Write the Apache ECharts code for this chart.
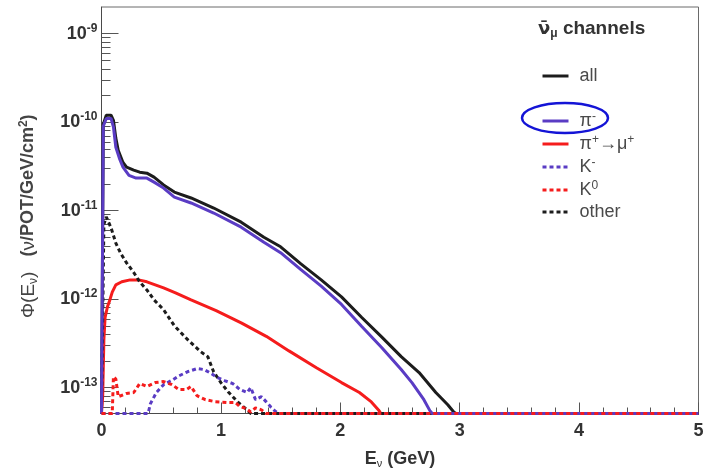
<!DOCTYPE html>
<html>
<head>
<meta charset="utf-8">
<script src="https://cdn.jsdelivr.net/npm/echarts@6/dist/echarts.min.js"></script>
<style>
  html, body { margin: 0; padding: 0; background: #ffffff; }
  #chart { width: 704px; height: 471px; }
</style>
</head>
<body>
<div id="chart"></div>
<script>
// Antineutrino flux by parent channel: energies in GeV, flux in ν/POT/GeV/cm².
// A flux of 0 marks an empty bin; it is drawn on the floor of the log axis.
const allE    = [0, 0.015, 0.04, 0.08, 0.10, 0.12, 0.14, 0.18, 0.21, 0.27, 0.32, 0.38, 0.44, 0.52, 0.61, 0.75, 0.94, 1.17, 1.36, 1.50, 1.67, 1.84, 2.01, 2.18, 2.35, 2.51, 2.66, 2.80, 2.90, 2.95, 2.97, 5.0];
const allFlux = [0, 9.5e-11, 1.2e-10, 1.2e-10, 1.05e-10, 6.6e-11, 4.8e-11, 3.5e-11, 3.1e-11, 2.87e-11, 2.72e-11, 2.65e-11, 2.39e-11, 1.95e-11, 1.62e-11, 1.39e-11, 1.07e-11, 7.4e-12, 5.0e-12, 3.9e-12, 2.5e-12, 1.65e-12, 1.06e-12, 6.2e-13, 3.7e-13, 2.24e-13, 1.48e-13, 8.8e-14, 6.4e-14, 5.3e-14, 0, 0];

const piMinusE    = [0, 0.015, 0.04, 0.08, 0.10, 0.12, 0.15, 0.18, 0.23, 0.29, 0.38, 0.44, 0.52, 0.61, 0.75, 0.94, 1.17, 1.36, 1.50, 1.67, 1.84, 2.01, 2.18, 2.35, 2.51, 2.60, 2.70, 2.75, 2.77, 5.0];
const piMinusFlux = [0, 9.0e-11, 1.1e-10, 1.1e-10, 8.8e-11, 5.2e-11, 3.9e-11, 3.1e-11, 2.5e-11, 2.33e-11, 2.33e-11, 2.1e-11, 1.8e-11, 1.42e-11, 1.22e-11, 9.4e-12, 6.5e-12, 4.4e-12, 3.35e-12, 2.15e-12, 1.4e-12, 8.7e-13, 4.9e-13, 2.8e-13, 1.6e-13, 1.14e-13, 7.3e-14, 5.5e-14, 0, 0];

const piPlusMuE    = [0, 0.01, 0.02, 0.03, 0.05, 0.07, 0.09, 0.12, 0.17, 0.24, 0.31, 0.38, 0.52, 0.62, 0.75, 0.96, 1.17, 1.38, 1.57, 1.80, 2.01, 2.16, 2.26, 2.32, 2.34, 5.0];
const piPlusMuFlux = [0, 8e-14, 3.5e-13, 6.2e-13, 8.2e-13, 9.8e-13, 1.2e-12, 1.45e-12, 1.57e-12, 1.65e-12, 1.65e-12, 1.57e-12, 1.34e-12, 1.18e-12, 9.8e-13, 7.4e-13, 5.4e-13, 3.8e-13, 2.6e-13, 1.68e-13, 1.14e-13, 8.8e-14, 6.9e-14, 5.6e-14, 0, 0];

const kMinusE    = [0, 0.39, 0.41, 0.46, 0.52, 0.60, 0.65, 0.72, 0.80, 0.86, 0.92, 0.97, 1.03, 1.10, 1.16, 1.22, 1.25, 1.29, 1.34, 1.38, 1.42, 1.45, 1.48, 5.0];
const kMinusFlux = [0, 0, 6.6e-14, 8.8e-14, 1.08e-13, 1.23e-13, 1.36e-13, 1.51e-13, 1.64e-13, 1.6e-13, 1.44e-13, 1.3e-13, 1.2e-13, 1.11e-13, 9.5e-14, 8.8e-14, 1.0e-13, 7.3e-14, 7.9e-14, 6.9e-14, 6.0e-14, 5.5e-14, 0, 0];

const kZeroE    = [0, 0.09, 0.10, 0.12, 0.14, 0.21, 0.27, 0.32, 0.38, 0.45, 0.52, 0.59, 0.65, 0.71, 0.75, 0.80, 0.87, 0.95, 1.05, 1.12, 1.16, 1.21, 1.25, 1.29, 1.34, 1.38, 5.0];
const kZeroFlux = [0, 0, 1.33e-13, 1.25e-13, 7.9e-14, 8.6e-14, 8.8e-14, 1.11e-13, 1.03e-13, 1.14e-13, 1.17e-13, 1.08e-13, 9.5e-14, 9.5e-14, 1.03e-13, 8.1e-14, 7.3e-14, 6.95e-14, 6.8e-14, 6.8e-14, 6.1e-14, 5.8e-14, 5.3e-14, 5.9e-14, 5.6e-14, 0, 0];

const otherE    = [0, 0.02, 0.04, 0.08, 0.12, 0.16, 0.21, 0.27, 0.32, 0.38, 0.44, 0.52, 0.61, 0.72, 0.83, 0.89, 0.94, 1.00, 1.06, 1.14, 1.22, 1.25, 5.0];
const otherFlux = [0, 7e-12, 8.5e-12, 6.4e-12, 4.3e-12, 3.3e-12, 2.57e-12, 2.0e-12, 1.57e-12, 1.27e-12, 9.8e-13, 7.6e-13, 5.0e-13, 3.5e-13, 2.55e-13, 2.24e-13, 1.5e-13, 1.14e-13, 9.0e-14, 6.9e-14, 5.6e-14, 0, 0];

// Axis ranges and tick labels
const xTicks = [0, 1, 2, 3, 4, 5];
const yDecades = [-13, -12, -11, -10, -9];
const Y_MIN = 5.1e-14;
const Y_MAX = 2e-9;

const FONT = '"Liberation Sans", Arial, Helvetica, sans-serif';
const BLACK = '#1c1c1c';
const PURPLE = '#5a3cc4';
const RED = '#f51c1c';

// Log-scaled value axis: points are placed at log10(flux); empty bins sit on the floor.
function toPoints(es, fluxes) {
  return es.map((e, i) => [e, Math.log10(Math.max(fluxes[i], Y_MIN))]);
}

// Minor tick positions 2..9 × 10^n inside the visible range
const yMinorTicks = [];
for (let n = yDecades[0] - 1; n <= yDecades[yDecades.length - 1]; n++) {
  for (let k = 2; k <= 9; k++) {
    const v = n + Math.log10(k);
    if (v > Math.log10(Y_MIN) && v < Math.log10(Y_MAX)) yMinorTicks.push(v);
  }
}

function lineSeries(name, es, fluxes, color, dashed, z) {
  return {
    name: name,
    type: 'line',
    data: toPoints(es, fluxes),
    showSymbol: false,
    symbol: 'none',
    z: z,
    clip: true,
    lineStyle: { color: color, width: 3, type: dashed ? [4, 3] : 'solid' },
    itemStyle: { color: color }
  };
}

const legendRich = {
  t: { fontSize: 18, color: '#4a4a4a', fontFamily: FONT, lineHeight: 20 },
  sup: { fontSize: 12, color: '#4a4a4a', fontFamily: FONT, lineHeight: 12, verticalAlign: 'top' }
};
const legendText = {
  'all': '{t|all}',
  'π⁻': '{t|π}{sup|-}',
  'π⁺→μ⁺': '{t|π}{sup|+}{t|→μ}{sup|+}',
  'K⁻': '{t|K}{sup|-}',
  'K⁰': '{t|K}{sup|0}',
  'other': '{t|other}'
};

function legendBlock(names, top, gap) {
  return {
    data: names,
    orient: 'vertical',
    left: 541,
    top: top,
    padding: 0,
    itemWidth: 26,
    itemHeight: 14,
    itemGap: gap,
    itemStyle: { opacity: 0 },
    lineStyle: { width: 3 },
    formatter: (name) => legendText[name],
    textStyle: { rich: legendRich, padding: [0, 0, 0, 6] },
    selectedMode: false
  };
}

const chart = echarts.init(document.getElementById('chart'), null, { renderer: 'canvas' });

chart.setOption({
  animation: false,
  backgroundColor: '#ffffff',
  title: {
    text: '{n|ν\u0304}{sub|μ}{b| channels}',
    left: 533,
    top: 13,
    textStyle: {
      rich: {
        n: { fontSize: 18, fontWeight: 'bold', color: '#333333', fontFamily: '"DejaVu Sans", sans-serif', lineHeight: 22 },
        b: { fontSize: 19, fontWeight: 'bold', color: '#333333', fontFamily: FONT, lineHeight: 22 },
        sub: { fontSize: 12, color: '#333333', fontFamily: FONT, lineHeight: 12, verticalAlign: 'bottom' }
      }
    }
  },
  legend: [
    legendBlock(['all'], 67, 4),
    legendBlock(['π⁻', 'π⁺→μ⁺', 'K⁻', 'K⁰', 'other'], 111, 4)
  ],
  grid: {
    left: 101.5,
    right: 5.5,
    top: 7,
    bottom: 57.5,
    show: true,
    borderColor: '#6a6a6a',
    borderWidth: 1,
    outerBoundsMode: 'none'
  },
  xAxis: {
    type: 'value',
    min: xTicks[0],
    max: xTicks[xTicks.length - 1],
    interval: 1,
    name: '{b|E}{sub|ν}{b| (GeV)}',
    nameLocation: 'middle',
    nameGap: 36,
    nameMoveOverlap: false,
    nameTextStyle: {
      rich: {
        b: { fontSize: 18, fontWeight: 'bold', color: '#333333', fontFamily: FONT, lineHeight: 20 },
        sub: { fontSize: 11, color: '#333333', fontFamily: FONT, lineHeight: 11, verticalAlign: 'bottom' }
      }
    },
    axisLine: { show: true, onZero: false, lineStyle: { color: '#4a4a4a', width: 1 } },
    axisTick: { show: true, inside: true, length: 11, lineStyle: { color: '#555555' } },
    minorTick: { show: true, splitNumber: 5, length: 6, lineStyle: { color: '#555555' } },
    splitLine: { show: false },
    axisLabel: {
      fontSize: 18, fontWeight: 'bold', color: '#333333', fontFamily: FONT, margin: 9,
      formatter: (v) => String(v)
    }
  },
  yAxis: [
    {
      type: 'value',
      min: Math.log10(Y_MIN),
      max: Math.log10(Y_MAX),
      name: '{g|Φ(E}{sub|ν}{g|)}{b|   (}{g|ν}{b|/POT/GeV/cm}{sup|2}{b|)}',
      nameLocation: 'middle',
      nameRotate: 90,
      nameGap: 62,
      nameMoveOverlap: false,
      nameTextStyle: {
        padding: [0, 12, 0, 0],
        rich: {
          g: { fontSize: 19, color: '#444444', fontFamily: FONT, lineHeight: 22 },
          b: { fontSize: 18, fontWeight: 'bold', color: '#444444', fontFamily: FONT, lineHeight: 22 },
          sub: { fontSize: 12, color: '#444444', fontFamily: FONT, lineHeight: 12, verticalAlign: 'bottom' },
          sup: { fontSize: 12, fontWeight: 'bold', color: '#444444', fontFamily: FONT, lineHeight: 12, verticalAlign: 'top' }
        }
      },
      axisLine: { show: true, onZero: false, lineStyle: { color: '#4a4a4a', width: 1 } },
      axisTick: { show: true, inside: true, length: 17, customValues: yDecades, lineStyle: { color: '#555555' } },
      minorTick: { show: false },
      splitLine: { show: false },
      axisLabel: {
        customValues: yDecades,
        margin: 4,
        formatter: (v) => '{b|10}{s|' + Math.round(v) + '}',
        rich: {
          b: { fontSize: 18, fontWeight: 'bold', color: '#333333', fontFamily: FONT, lineHeight: 22 },
          s: { fontSize: 12, fontWeight: 'bold', color: '#333333', fontFamily: FONT, lineHeight: 12, verticalAlign: 'top' }
        }
      }
    },
    {
      type: 'value',
      min: Math.log10(Y_MIN),
      max: Math.log10(Y_MAX),
      position: 'left',
      offset: 0,
      axisLine: { show: false },
      axisTick: { show: true, inside: true, length: 9, customValues: yMinorTicks, lineStyle: { color: '#555555' } },
      axisLabel: { show: false },
      splitLine: { show: false }
    }
  ],
  series: [
    lineSeries('all', allE, allFlux, BLACK, false, 2),
    lineSeries('π⁺→μ⁺', piPlusMuE, piPlusMuFlux, RED, false, 3),
    lineSeries('other', otherE, otherFlux, BLACK, true, 4),
    lineSeries('π⁻', piMinusE, piMinusFlux, PURPLE, false, 5),
    lineSeries('K⁻', kMinusE, kMinusFlux, PURPLE, true, 6),
    lineSeries('K⁰', kZeroE, kZeroFlux, RED, true, 7)
  ],
  graphic: [
    {
      type: 'ellipse',
      shape: { cx: 565, cy: 118, rx: 43, ry: 15 },
      style: { fill: 'transparent', stroke: '#1414d6', lineWidth: 2.5 },
      z: 100
    }
  ]
});
</script>
</body>
</html>
